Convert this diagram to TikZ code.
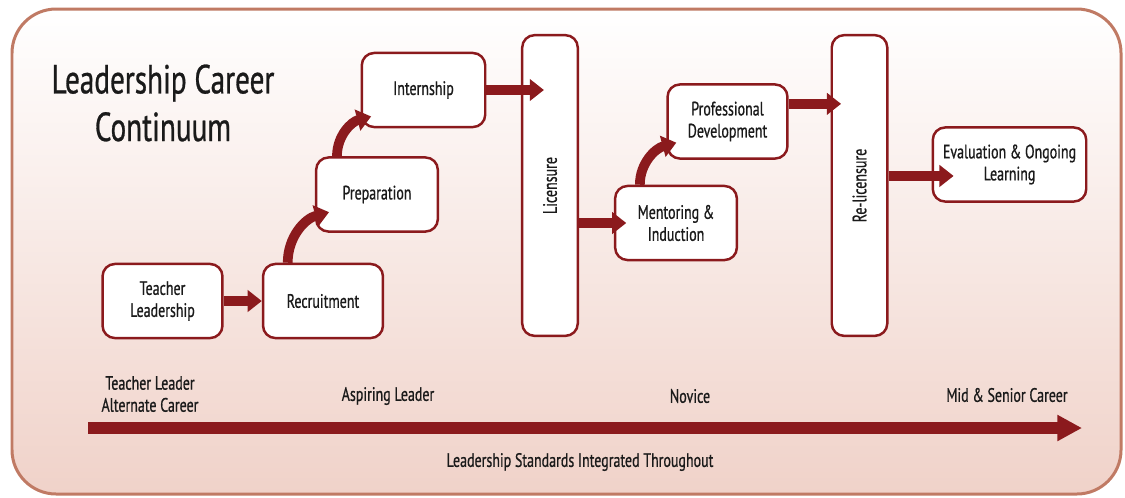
\documentclass[tikz,border=0pt]{standalone}
\usepackage{fontspec}
\setmainfont{PT Sans}[FakeStretch=0.72, FakeBold=0.7]
\usetikzlibrary{calc, positioning, arrows.meta}
\definecolor{wine}{HTML}{8B1A1D}
\definecolor{frame}{HTML}{C07A64}
\definecolor{blush}{HTML}{F0D2C9}
\definecolor{ink}{HTML}{1A1A1A}

\begin{document}
\begin{tikzpicture}[x=0.567pt, y=-0.567pt, text=ink,
    stage/.style={draw=wine, line width=1.4pt, rounded corners=7pt, fill=white,
      align=center, font=\fontsize{11}{12.5}\selectfont,
      minimum width=68pt, minimum height=42pt, inner sep=1pt},
    gate/.style={stage, rotate=90, minimum width=170.5pt, minimum height=31.5pt},
    flow/.style={wine, line width=5.5pt, -{Triangle[length=8pt, width=12pt]}},
    phase/.style={font=\fontsize{11}{12.5}\selectfont, align=center}]
    \useasboundingbox (0,0) rectangle (1125,497);

    % Frame with soft gradient
    \draw[frame, line width=1.7pt, rounded corners=25pt,
      top color=white, middle color=blush!18!white, bottom color=blush]
      (12,9) rectangle (1121,494);

    % Title
    \node[font=\fontsize{23}{27}\selectfont, align=center] (title) at (163,103)
      {Leadership Career\\Continuum};

    % Stages
    \node[stage] (teach) at (162.5,301) {Teacher\\Leadership};
    \node[stage] (rec) at (323,301) {Recruitment};
    \node[stage, minimum width=69pt] (prep) at (377,194.5) {Preparation};
    \node[stage, minimum width=70pt] (intern) at (423.5,90) {Internship};
    \node[gate] (lic) at (550,185.5) {Licensure};
    \node[stage, minimum width=69pt] (ment) at (676,223) {Mentoring \&\\Induction};
    \node[stage] (pd) at (727.5,121.5) {Professional\\Development};
    \node[gate] (rel) at (859.5,185.5) {Re-licensure};
    \node[stage, minimum width=87pt] (eval) at (1009.5,164.5) {Evaluation \& Ongoing\\Learning};

    % Straight links
    \draw[flow] (teach.east) -- (rec.west);
    \draw[flow] (intern.east) -- ([xshift=13pt]intern.east -| lic.north);
    \draw[flow] (ment.west -| lic.south) -- ([xshift=7pt]ment.west);
    \draw[flow] ([yshift=10pt]pd.east) -- ([yshift=10pt, xshift=6pt]pd.east -| rel.north);
    \draw[flow] ([yshift=-6.5pt]eval.west -| rel.south) -- ([xshift=12.5pt, yshift=-6.5pt]eval.west);

    % Curved steps up
    \draw[flow] ([xshift=14.7pt]rec.north west) to[out=90, in=195] ([xshift=8pt, yshift=-10pt]prep.west);
    \draw[flow] ([xshift=12.5pt]prep.north west) to[out=90, in=195] ([xshift=6pt, yshift=-15pt]intern.west);
    \draw[flow] ([xshift=14.7pt]ment.north west) to[out=90, in=195] ([xshift=5.7pt, yshift=-12pt]pd.west);

    % Career timeline
    \coordinate (tlstart) at (88,428);
    \coordinate (tlend) at (1082,428);
    \draw[flow, line width=7pt, -{Triangle[length=14pt, width=14pt]}] (tlstart) -- (tlend);

    \node[phase] (alt) at (150,394) {Teacher Leader\\Alternate Career};
    \node[phase] (asp) at (388,396) {Aspiring Leader};
    \node[phase] (nov) at (690,396) {Novice};
    \node[phase] (mid) at (1007,395) {Mid \& Senior Career};
    \node[phase] (std) at (580,462) {Leadership Standards Integrated Throughout};
\end{tikzpicture}
\end{document}
